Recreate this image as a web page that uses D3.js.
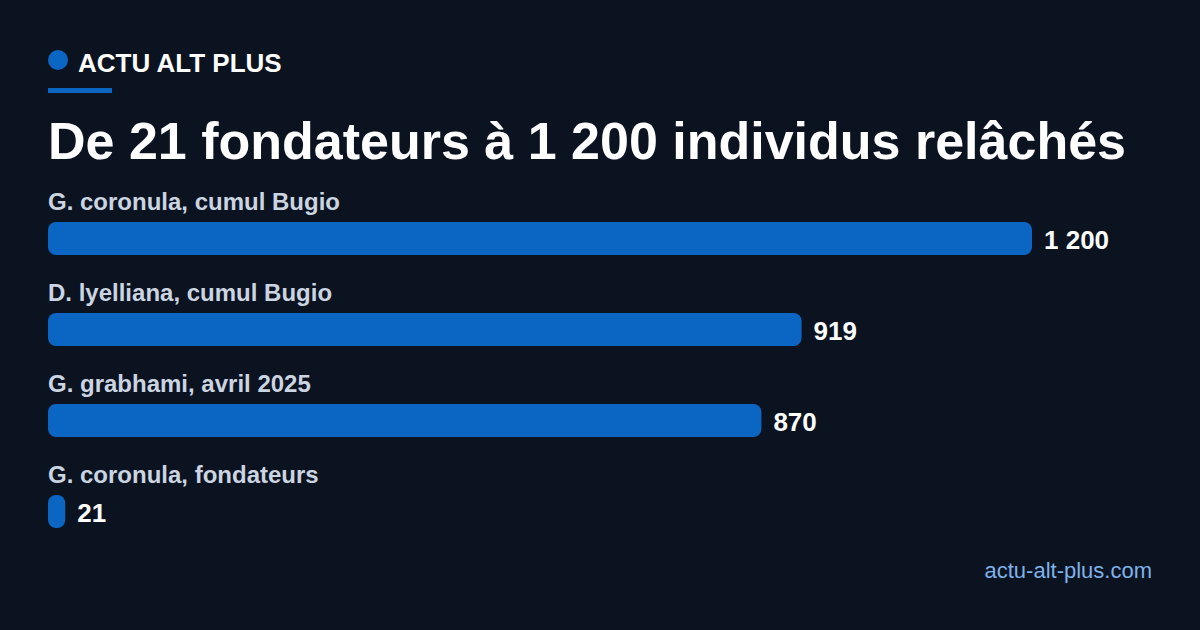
<!DOCTYPE html>
<html>
<head>
<meta charset="utf-8">
<script src="https://cdn.jsdelivr.net/npm/d3@7"></script>
<style>
  html, body { margin: 0; padding: 0; background: #0b1220; }
  svg { display: block; font-family: "Liberation Sans", Arial, sans-serif; }
</style>
</head>
<body>
<div id="chart"></div>
<script>
// chart data
const categories = ["G. coronula, cumul Bugio", "D. lyelliana, cumul Bugio", "G. grabhami, avril 2025", "G. coronula, fondateurs"];
const values = [1200, 919, 870, 21];
const valueLabels = ["1 200", "919", "870", "21"];

const width = 1200, height = 630;

const svg = d3.select("#chart")
  .append("svg")
  .attr("width", width)
  .attr("height", height);

svg.append("rect").attr("width", width).attr("height", height).attr("fill", "#0b1220");

// header
svg.append("circle").attr("cx", 58).attr("cy", 60).attr("r", 10).attr("fill", "#0b66c3");
svg.append("text")
  .attr("x", 78).attr("y", 72)
  .attr("fill", "#ffffff")
  .attr("font-size", 26).attr("font-weight", 700)
  .text("ACTU ALT PLUS");
svg.append("rect").attr("x", 48).attr("y", 88).attr("width", 64).attr("height", 5).attr("fill", "#0b66c3");

svg.append("text")
  .attr("x", 48).attr("y", 159)
  .attr("fill", "#ffffff")
  .attr("font-size", 52).attr("font-weight", 700)
  .text("De 21 fondateurs à 1 200 individus relâchés");

// scales
const x = d3.scaleLinear()
  .domain([0, d3.max(values)])
  .range([48, 1032]);

const y = d3.scaleBand()
  .domain(categories)
  .range([188, 552])
  .paddingInner(0)
  .paddingOuter(0);

const rows = svg.selectAll(".row")
  .data(categories)
  .enter().append("g")
  .attr("class", "row")
  .attr("transform", d => `translate(0,${y(d)})`);

rows.append("text")
  .attr("x", 48).attr("y", 22)
  .attr("fill", "#cbd5e1")
  .attr("font-size", 24).attr("font-weight", 700)
  .text(d => d);

const barH = 33;
rows.append("rect")
  .attr("x", x(0))
  .attr("y", 34)
  .attr("width", (d, i) => Math.max(x(values[i]) - x(0), 17))
  .attr("height", barH)
  .attr("rx", 8).attr("ry", 8)
  .attr("fill", "#0b66c3");

rows.append("text")
  .attr("x", (d, i) => x(0) + Math.max(x(values[i]) - x(0), 17) + 12)
  .attr("y", 61)
  .attr("fill", "#ffffff")
  .attr("font-size", 26).attr("font-weight", 700)
  .text((d, i) => valueLabels[i]);

// footer
svg.append("text")
  .attr("x", 1152).attr("y", 578)
  .attr("text-anchor", "end")
  .attr("fill", "#7fb2ea")
  .attr("font-size", 22)
  .text("actu-alt-plus.com");
</script>
</body>
</html>
